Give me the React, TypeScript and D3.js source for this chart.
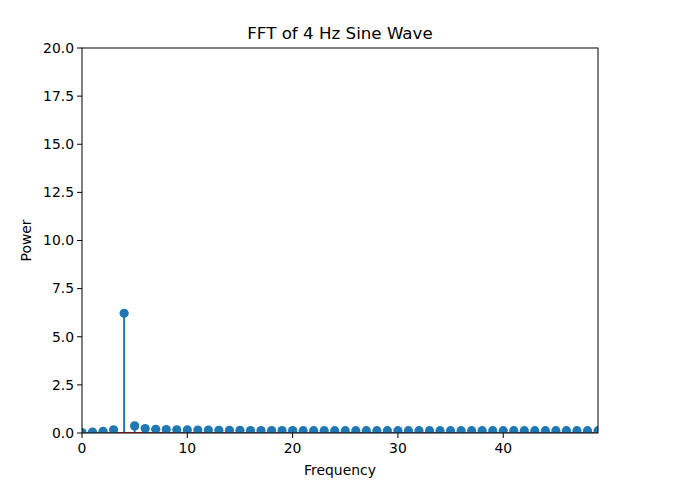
import React from "react";
import * as d3 from "d3";

const freqs: number[] = Array.from({ length: 50 }, (_, i) => i);
const power: number[] = [
  0.02, 0.05, 0.09, 0.17, 6.22, 0.37, 0.23, 0.19, 0.18, 0.17,
  0.16, 0.15, 0.15, 0.14, 0.14, 0.14, 0.13, 0.13, 0.13, 0.13,
  0.13, 0.12, 0.12, 0.12, 0.12, 0.12, 0.12, 0.12, 0.12, 0.12,
  0.12, 0.12, 0.12, 0.12, 0.12, 0.12, 0.12, 0.12, 0.12, 0.12,
  0.12, 0.12, 0.12, 0.12, 0.12, 0.12, 0.12, 0.12, 0.12, 0.12,
];
const xTicks: number[] = [0, 10, 20, 30, 40];
const yTicks: number[] = [0, 2.5, 5, 7.5, 10, 12.5, 15, 17.5, 20];
const title = "FFT of 4 Hz Sine Wave";
const xLabel = "Frequency";
const yLabel = "Power";

export default function App() {
  const W = 678, H = 500;
  const left = 82, right = 598, top = 48, bottom = 433;
  const x = d3.scaleLinear().domain([0, 49]).range([left, right]);
  const y = d3.scaleLinear().domain([0, 20]).range([bottom, top]);
  const color = "#1f77b4";
  const font = "DejaVu Sans, sans-serif";
  return (
    <svg width={W} height={H} style={{ position: "absolute", left: 0, top: 0, background: "#fff" }}>
      <defs>
        <clipPath id="plotclip">
          <rect x={left} y={top} width={right - left} height={bottom - top} />
        </clipPath>
      </defs>
      <g clipPath="url(#plotclip)">
        {freqs.map((f, i) => (
          <line key={"s" + i} x1={x(f)} x2={x(f)} y1={y(0)} y2={y(power[i])} stroke={color} strokeWidth={2} />
        ))}
        <line x1={x(0)} x2={x(49)} y1={y(0)} y2={y(0)} stroke="#d62728" strokeWidth={2} />
        {freqs.map((f, i) => (
          <circle key={"m" + i} cx={x(f)} cy={y(power[i])} r={4.6} fill={color} />
        ))}
      </g>
      <rect x={left} y={top} width={right - left} height={bottom - top} fill="none" stroke="#000" strokeWidth={1} />
      {xTicks.map((t) => (
        <g key={"x" + t}>
          <line x1={x(t)} x2={x(t)} y1={bottom} y2={bottom + 5} stroke="#000" />
          <text x={x(t)} y={bottom + 20} textAnchor="middle" fontFamily={font} fontSize={13.9}>{t}</text>
        </g>
      ))}
      {yTicks.map((t) => (
        <g key={"y" + t}>
          <line x1={left - 5} x2={left} y1={y(t)} y2={y(t)} stroke="#000" />
          <text x={left - 8} y={y(t)} dy="0.35em" textAnchor="end" fontFamily={font} fontSize={13.9}>{t.toFixed(1)}</text>
        </g>
      ))}
      <text x={(left + right) / 2} y={39} textAnchor="middle" fontFamily={font} fontSize={16.7}>{title}</text>
      <text x={(left + right) / 2} y={475} textAnchor="middle" fontFamily={font} fontSize={13.9}>{xLabel}</text>
      <text transform={`translate(31,${(top + bottom) / 2}) rotate(-90)`} textAnchor="middle" fontFamily={font} fontSize={13.9}>{yLabel}</text>
    </svg>
  );
}
